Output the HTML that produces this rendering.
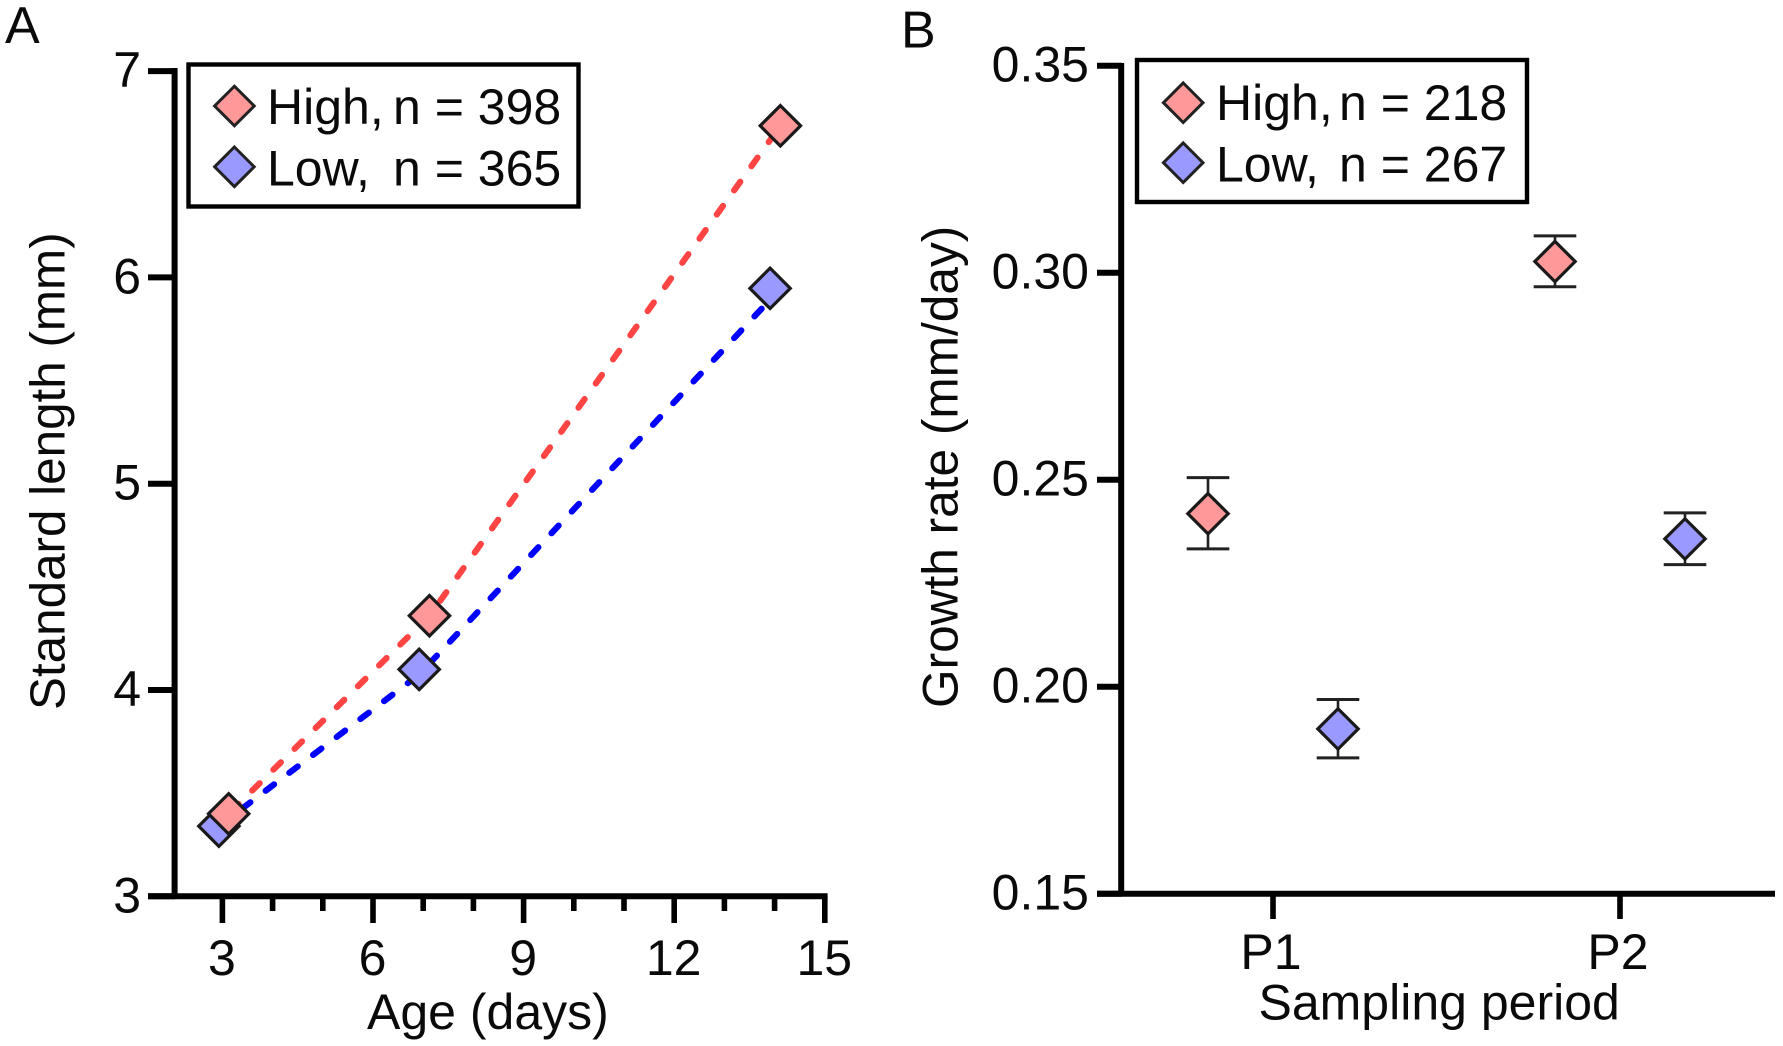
<!DOCTYPE html>
<html lang="en">
<head>
<meta charset="utf-8">
<title>Standard length and growth rate by group</title>
<style>
  html, body { margin: 0; padding: 0; background: #ffffff; }
  #figure { display: block; width: 1783px; height: 1046px; }
  text { font-family: "Liberation Sans", Arial, sans-serif; fill: #0a0a0a; }
</style>
</head>
<body>
<svg id="figure" xmlns="http://www.w3.org/2000/svg" width="1783" height="1046" viewBox="0 0 1783 1046">
  <rect x="0" y="0" width="1783" height="1046" fill="#ffffff"/>

  <text x="5" y="43" font-size="52">A</text>
  <text x="901" y="47.5" font-size="52">B</text>

  <g id="panel-a"></g>
  <g id="panel-b"></g>

  <text transform="translate(64.5 710) rotate(-90)" font-size="49.4">Standard length (mm)</text>
  <text x="367" y="1029" font-size="50">Age (days)</text>
  <text transform="translate(957.5 708) rotate(-90)" font-size="49.6">Growth rate (mm/day)</text>
  <text x="1258.5" y="1019.5" font-size="50">Sampling period</text>

  <g>
    <rect x="188.5" y="64.5" width="390" height="142" fill="#ffffff" stroke="#000000" stroke-width="4.4"/>
    <polygon points="234.4,86.2 254.2,106 234.4,125.8 214.6,106" fill="#ff9999" stroke="#222222" stroke-width="3"/>
    <text x="267" y="124" font-size="50">High,</text>
    <text x="393" y="124" font-size="50">n = 398</text>
    <polygon points="234.4,147 254.2,166.8 234.4,186.6 214.6,166.8" fill="#9999ff" stroke="#222222" stroke-width="3"/>
    <text x="267" y="185.5" font-size="50">Low,</text>
    <text x="393" y="185.5" font-size="50">n = 365</text>
  </g>

  <g>
    <rect x="1137" y="60" width="390" height="142" fill="#ffffff" stroke="#000000" stroke-width="4.4"/>
    <polygon points="1183.2,82.9 1203,102.7 1183.2,122.5 1163.4,102.7" fill="#ff9999" stroke="#222222" stroke-width="3"/>
    <text x="1216" y="120" font-size="50">High,</text>
    <text x="1339" y="120" font-size="50">n = 218</text>
    <polygon points="1183.2,142.9 1203,162.7 1183.2,182.5 1163.4,162.7" fill="#9999ff" stroke="#222222" stroke-width="3"/>
    <text x="1216" y="181.5" font-size="50">Low,</text>
    <text x="1339" y="181.5" font-size="50">n = 267</text>
  </g>
</svg>

<script>
// Panel A data
const ageYTicks = [3, 4, 5, 6, 7];
const ageXMajorTicks = [3, 6, 9, 12, 15];
const ageXMinorTicks = [4, 5, 7, 8, 10, 11, 13, 14];
const highDays = [3.125, 7.125, 14.115];
const highLengths = [3.40, 4.36, 6.735];
const lowDays = [2.93, 6.92, 13.91];
const lowLengths = [3.34, 4.10, 5.947];
const lowFitGap = [0, -0.025, -0.055];

// Panel B data
const rateYTicks = ["0.15", "0.20", "0.25", "0.30", "0.35"];
const periods = ["P1", "P2"];
const highRates = [0.2418, 0.3027];
const highRatesUpper = [0.2505, 0.3089];
const highRatesLower = [0.2333, 0.2966];
const lowRates = [0.1898, 0.2357];
const lowRatesUpper = [0.1969, 0.2420];
const lowRatesLower = [0.1828, 0.2295];

const SVGNS = 'http://www.w3.org/2000/svg';
const panelA = document.getElementById('panel-a');
const panelB = document.getElementById('panel-b');

function make(tag, parent, attrs) {
  const el = document.createElementNS(SVGNS, tag);
  Object.keys(attrs).forEach(function (k) { el.setAttribute(k, attrs[k]); });
  parent.appendChild(el);
  return el;
}

// Axis functions
function ageX(day) { return 222.4 + (day - 3) * 50.2; }
function lengthY(mm) { return 896.3 - (mm - 3) * 206.3; }
function periodX(i) { return 1273 + i * 347; }
function rateY(rate) { return 893.7 - (rate - 0.15) * 4140; }

function drawDiamond(parent, cx, cy, fill) {
  const r = 20.2;
  return make('polygon', parent, {
    points: cx + ',' + (cy - r) + ' ' + (cx + r) + ',' + cy + ' ' + cx + ',' + (cy + r) + ' ' + (cx - r) + ',' + cy,
    fill: fill, stroke: '#1a1a1a', 'stroke-width': 3.2, 'stroke-linejoin': 'miter'
  });
}

// ---------- Panel A axes ----------
const aYAxis = make('line', panelA, { x1: 174.6, x2: 174.6, y1: 68, y2: 899, stroke: '#000', 'stroke-width': 6 });


const aXAxis = make('line', panelA, { x1: 148, x2: 827.6, y1: 896.3, y2: 896.3, stroke: '#000', 'stroke-width': 6 });



ageYTicks.forEach(function (v) {
  const tick = make('line', panelA, { x1: 148, x2: 175, y1: lengthY(v), y2: lengthY(v), stroke: '#000', 'stroke-width': 6 });
  
  
  const label = make('text', panelA, { x: 141, y: lengthY(v) + 16, 'text-anchor': 'end', 'font-size': 50 });
  
  
  label.textContent = v;
});
ageXMajorTicks.forEach(function (v) {
  const tick = make('line', panelA, { x1: ageX(v), x2: ageX(v), y1: 896, y2: 923, stroke: '#000', 'stroke-width': 5.6 });
  
  
  const label = make('text', panelA, { x: ageX(v) - 0.5, y: 975, 'text-anchor': 'middle', 'font-size': 50 });
  
  
  label.textContent = v;
});
ageXMinorTicks.forEach(function (v) {
  const tick = make('line', panelA, { x1: ageX(v), x2: ageX(v), y1: 896, y2: 911, stroke: '#000', 'stroke-width': 5.6 });
  
  
});

// ---------- Panel A series ----------
const highLinePoints = highDays.map(function (d, i) { return ageX(d) + ',' + lengthY(highLengths[i]); }).join(' ');
const highLine = make('polyline', panelA, { points: highLinePoints, fill: 'none', stroke: '#ff4444', 'stroke-width': 6.2, 'stroke-linecap': 'round', 'stroke-linejoin': 'round', 'stroke-dasharray': '10.5 19.2', 'stroke-dashoffset': -3.4 });



const lowLinePoints = lowDays.map(function (d, i) { return ageX(d) + ',' + lengthY(lowLengths[i] + lowFitGap[i]); }).join(' ');
const lowLine = make('polyline', panelA, { points: lowLinePoints, fill: 'none', stroke: '#0000ff', 'stroke-width': 6.2, 'stroke-linecap': 'round', 'stroke-linejoin': 'round', 'stroke-dasharray': '10.5 19.2', 'stroke-dashoffset': 0.7 });



lowDays.forEach(function (d, i) {
  const point = drawDiamond(panelA, ageX(d), lengthY(lowLengths[i]), '#9999ff');
  
  
});
highDays.forEach(function (d, i) {
  const point = drawDiamond(panelA, ageX(d), lengthY(highLengths[i]), '#ff9999');
  
  
});

// ---------- Panel B axes ----------
const bYAxis = make('line', panelB, { x1: 1121.2, x2: 1121.2, y1: 63, y2: 896, stroke: '#000', 'stroke-width': 6 });


const bXAxis = make('line', panelB, { x1: 1097, x2: 1775, y1: 893.7, y2: 893.7, stroke: '#000', 'stroke-width': 6 });



rateYTicks.forEach(function (v) {
  const tick = make('line', panelB, { x1: 1097, x2: 1122, y1: rateY(+v), y2: rateY(+v), stroke: '#000', 'stroke-width': 6 });
  
  
  const label = make('text', panelB, { x: 1089, y: rateY(+v) + 16, 'text-anchor': 'end', 'font-size': 50 });
  
  
  label.textContent = v;
});
periods.forEach(function (p, i) {
  const tick = make('line', panelB, { x1: periodX(i), x2: periodX(i), y1: 894, y2: 919, stroke: '#000', 'stroke-width': 5.6 });
  
  
  const label = make('text', panelB, { x: periodX(i) - 2, y: 969, 'text-anchor': 'middle', 'font-size': 50 });
  
  
  label.textContent = p;
});

// ---------- Panel B series ----------
const groupOffset = 65;
const capHalf = 21.3;

function drawWhisker(cx, lower, upper) {
  const g = make('g', panelB, {});
  make('line', g, { x1: cx, x2: cx, y1: rateY(upper), y2: rateY(lower), stroke: '#222222', 'stroke-width': 2.6 });
  make('line', g, { x1: cx - capHalf, x2: cx + capHalf, y1: rateY(upper), y2: rateY(upper), stroke: '#222222', 'stroke-width': 3 });
  make('line', g, { x1: cx - capHalf, x2: cx + capHalf, y1: rateY(lower), y2: rateY(lower), stroke: '#222222', 'stroke-width': 3 });
  return g;
}

periods.forEach(function (p, i) {
  const hx = periodX(i) - groupOffset;
  const highBar = drawWhisker(hx, highRatesLower[i], highRatesUpper[i]);
  
  
  const highPoint = drawDiamond(panelB, hx, rateY(highRates[i]), '#ff9999');
  
  

  const lx = periodX(i) + groupOffset;
  const lowBar = drawWhisker(lx, lowRatesLower[i], lowRatesUpper[i]);
  
  
  const lowPoint = drawDiamond(panelB, lx, rateY(lowRates[i]), '#9999ff');
  
  
});
</script>
</body>
</html>
